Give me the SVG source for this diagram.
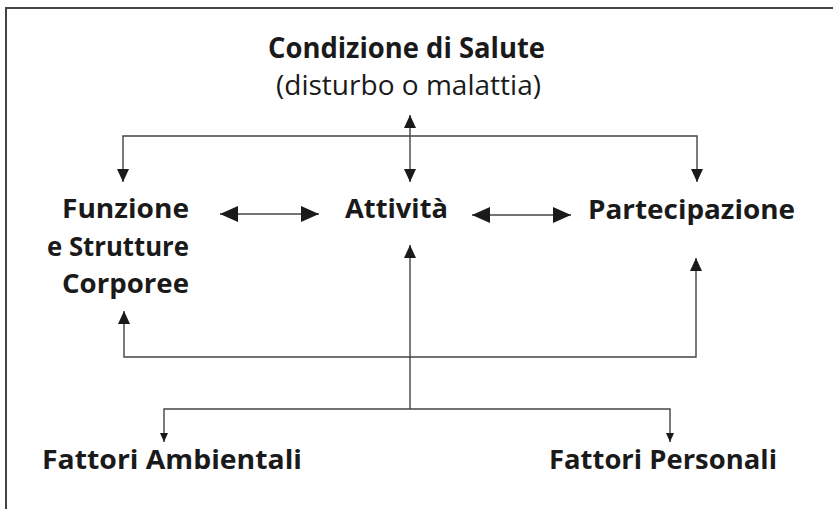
<svg xmlns="http://www.w3.org/2000/svg" width="833" height="509" viewBox="0 0 833 509">
  <style>
    .t { font-family: "Open Sans", "Noto Sans", "DejaVu Sans", sans-serif; fill: #1a1a1a; }
    .b { font-weight: bold; font-size: 27px; }
    .title { font-weight: bold; font-size: 28px; }
    .sub { font-weight: normal; font-size: 27px; }
    .c { fill: none; stroke: #444; stroke-width: 1.4; }
  </style>
  <defs>
    <marker id="big" markerUnits="userSpaceOnUse" viewBox="0 0 18 16" markerWidth="18" markerHeight="16" refX="18" refY="8" orient="auto-start-reverse">
      <path d="M0,0 L18,8 L0,16 Z" fill="#1a1a1a"/>
    </marker>
    <marker id="mid" markerUnits="userSpaceOnUse" viewBox="0 0 13 12" markerWidth="13" markerHeight="12" refX="13" refY="6" orient="auto-start-reverse">
      <path d="M0,0 L13,6 L0,12 Z" fill="#1a1a1a"/>
    </marker>
    <marker id="sm" markerUnits="userSpaceOnUse" viewBox="0 0 9 8" markerWidth="9" markerHeight="8" refX="9" refY="4" orient="auto-start-reverse">
      <path d="M0,0 L9,4 L0,8 Z" fill="#1a1a1a"/>
    </marker>
  </defs>

  <path d="M6,509 L6,8 L833,8" fill="none" stroke="#444" stroke-width="2"/>

  <g id="connectors">
    <path class="c" d="M410,115 L410,182" marker-start="url(#mid)" marker-end="url(#mid)"/>
    <path class="c" d="M123,182 L123,136 L697,136 L697,182" marker-start="url(#mid)" marker-end="url(#mid)"/>
    <path class="c" d="M220,214 L319,214" stroke-width="2" marker-start="url(#big)" marker-end="url(#big)"/>
    <path class="c" d="M472,215 L571,215" stroke-width="2" marker-start="url(#big)" marker-end="url(#big)"/>
    <path class="c" d="M124,311 L124,357 L696,357 L696,258" marker-start="url(#mid)" marker-end="url(#mid)"/>
    <path class="c" d="M410,409 L410,245" marker-end="url(#mid)"/>
    <path class="c" d="M164,442 L164,409 L670,409 L670,442" marker-start="url(#sm)" marker-end="url(#sm)"/>
  </g>

  <g id="condizione">
    <text class="t title" x="268" y="58" textLength="277" lengthAdjust="spacingAndGlyphs">Condizione di Salute</text>
    <text class="t sub" x="276" y="95" textLength="265" lengthAdjust="spacingAndGlyphs">(disturbo o malattia)</text>
  </g>
  <g id="funzione">
    <text class="t b" x="62" y="218" textLength="127" lengthAdjust="spacingAndGlyphs">Funzione</text>
    <text class="t b" x="47" y="256" textLength="142" lengthAdjust="spacingAndGlyphs">e Strutture</text>
    <text class="t b" x="62" y="293" textLength="127" lengthAdjust="spacingAndGlyphs">Corporee</text>
  </g>
  <g id="attivita">
    <text class="t b" x="345" y="218" textLength="103" lengthAdjust="spacingAndGlyphs">Attività</text>
  </g>
  <g id="partecipazione">
    <text class="t b" x="588" y="219" textLength="207" lengthAdjust="spacingAndGlyphs">Partecipazione</text>
  </g>
  <g id="ambientali">
    <text class="t b" x="42" y="469" textLength="260" lengthAdjust="spacingAndGlyphs">Fattori Ambientali</text>
  </g>
  <g id="personali">
    <text class="t b" x="549" y="469" textLength="228" lengthAdjust="spacingAndGlyphs">Fattori Personali</text>
  </g>
</svg>
